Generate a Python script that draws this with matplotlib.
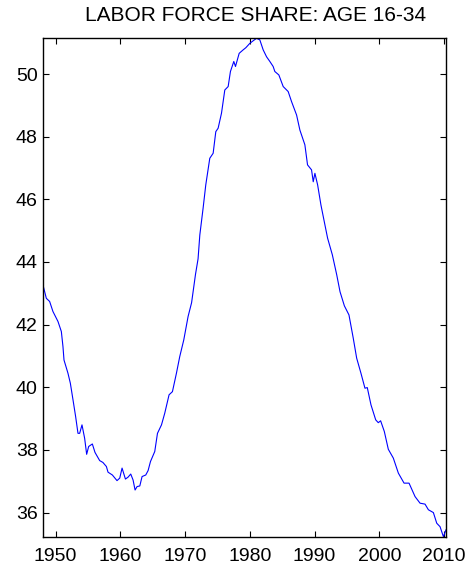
import matplotlib
matplotlib.use("Agg")
import matplotlib.pyplot as plt

title = "LABOR FORCE SHARE: AGE 16-34"

years = [1948.00, 1948.56, 1949.07, 1949.58, 1950.36, 1950.88, 1951.13, 1951.29, 1951.90, 1952.27,
         1952.68, 1953.09, 1953.45, 1953.71, 1954.07, 1954.48, 1954.79, 1955.10, 1955.67, 1956.08,
         1956.80, 1957.30, 1957.84, 1958.09, 1958.76, 1959.48, 1959.90, 1960.26, 1960.78, 1961.18,
         1961.60, 1961.96, 1962.27, 1962.58, 1963.00, 1963.35, 1963.92, 1964.28, 1964.65, 1965.31,
         1965.73, 1966.35, 1966.85, 1967.52, 1968.04, 1968.66, 1969.17, 1969.79, 1970.46, 1971.00,
         1971.60, 1972.00, 1972.27, 1972.78, 1973.19, 1973.81, 1974.33, 1974.74, 1975.10, 1975.62,
         1976.13, 1976.65, 1977.00, 1977.52, 1977.78, 1978.35, 1978.96, 1979.38, 1980.00, 1980.51,
         1981.03, 1981.54, 1982.06, 1982.58, 1983.09, 1983.60, 1983.86, 1984.48, 1985.15, 1985.92,
         1986.44, 1987.22, 1987.73, 1988.50, 1988.91, 1989.53, 1989.79, 1990.05, 1990.47, 1990.98,
         1991.60, 1992.01, 1992.74, 1993.42, 1993.93, 1994.60, 1995.31, 1995.97, 1996.50, 1997.16,
         1997.78, 1998.14, 1998.71, 1999.44, 1999.84, 2000.20, 2000.77, 2001.39, 2002.16, 2002.94,
         2003.82, 2004.59, 2005.52, 2006.29, 2007.06, 2007.58, 2008.35, 2008.87, 2009.38, 2009.90,
         2010.30]

share = [43.30, 42.84, 42.74, 42.42, 42.10, 41.78, 41.30, 40.87, 40.45, 40.13,
         39.60, 39.06, 38.53, 38.53, 38.80, 38.37, 37.86, 38.11, 38.19, 37.92,
         37.66, 37.60, 37.47, 37.29, 37.20, 37.02, 37.10, 37.42, 37.07, 37.13,
         37.23, 37.04, 36.72, 36.83, 36.85, 37.15, 37.20, 37.34, 37.63, 37.95,
         38.53, 38.80, 39.17, 39.76, 39.86, 40.45, 40.98, 41.51, 42.26, 42.70,
         43.60, 44.10, 44.86, 45.72, 46.46, 47.31, 47.47, 48.16, 48.27, 48.75,
         49.49, 49.60, 50.08, 50.40, 50.24, 50.66, 50.77, 50.84, 50.98, 51.06,
         51.14, 51.09, 50.77, 50.55, 50.40, 50.24, 50.08, 49.97, 49.60, 49.44,
         49.12, 48.69, 48.21, 47.74, 47.10, 46.94, 46.56, 46.83, 46.46, 45.82,
         45.18, 44.76, 44.23, 43.59, 43.05, 42.60, 42.31, 41.57, 40.93, 40.45,
         39.97, 39.99, 39.44, 38.96, 38.87, 38.93, 38.59, 38.02, 37.74, 37.26,
         36.94, 36.94, 36.51, 36.30, 36.27, 36.09, 36.00, 35.66, 35.55, 35.23,
         35.45]

xticks = [1950, 1960, 1970, 1980, 1990, 2000, 2010]
yticks = [36, 38, 40, 42, 44, 46, 48, 50]

plt.rcParams['font.family'] = ['Liberation Sans', 'DejaVu Sans']

fig = plt.figure(figsize=(4.76, 5.71), dpi=100)
ax = fig.add_axes([42.7 / 476, 34.3 / 571, (446 - 42.7) / 476, (536.7 - 38.3) / 571])
ax.plot(years, share, color=(0, 0, 1), linewidth=0.8)
ax.set_xlim(min(years), max(years))
ax.set_ylim(min(share), max(share))
ax.set_xticks(xticks)
ax.set_yticks(yticks)
ax.set_xticklabels([str(t) for t in xticks])
ax.set_yticklabels([str(t) for t in yticks])
ax.tick_params(direction='in', length=4.5, width=0.8, top=True, right=True,
               labelsize=14)
ax.tick_params(axis='x', pad=8)
ax.tick_params(axis='y', pad=3.5)
for s in ax.spines.values():
    s.set_linewidth(1.0)
fig.text(256 / 476, 1 - 15.5 / 571, title, ha='center', va='center', fontsize=15)
fig.savefig("out.png", dpi=100)
